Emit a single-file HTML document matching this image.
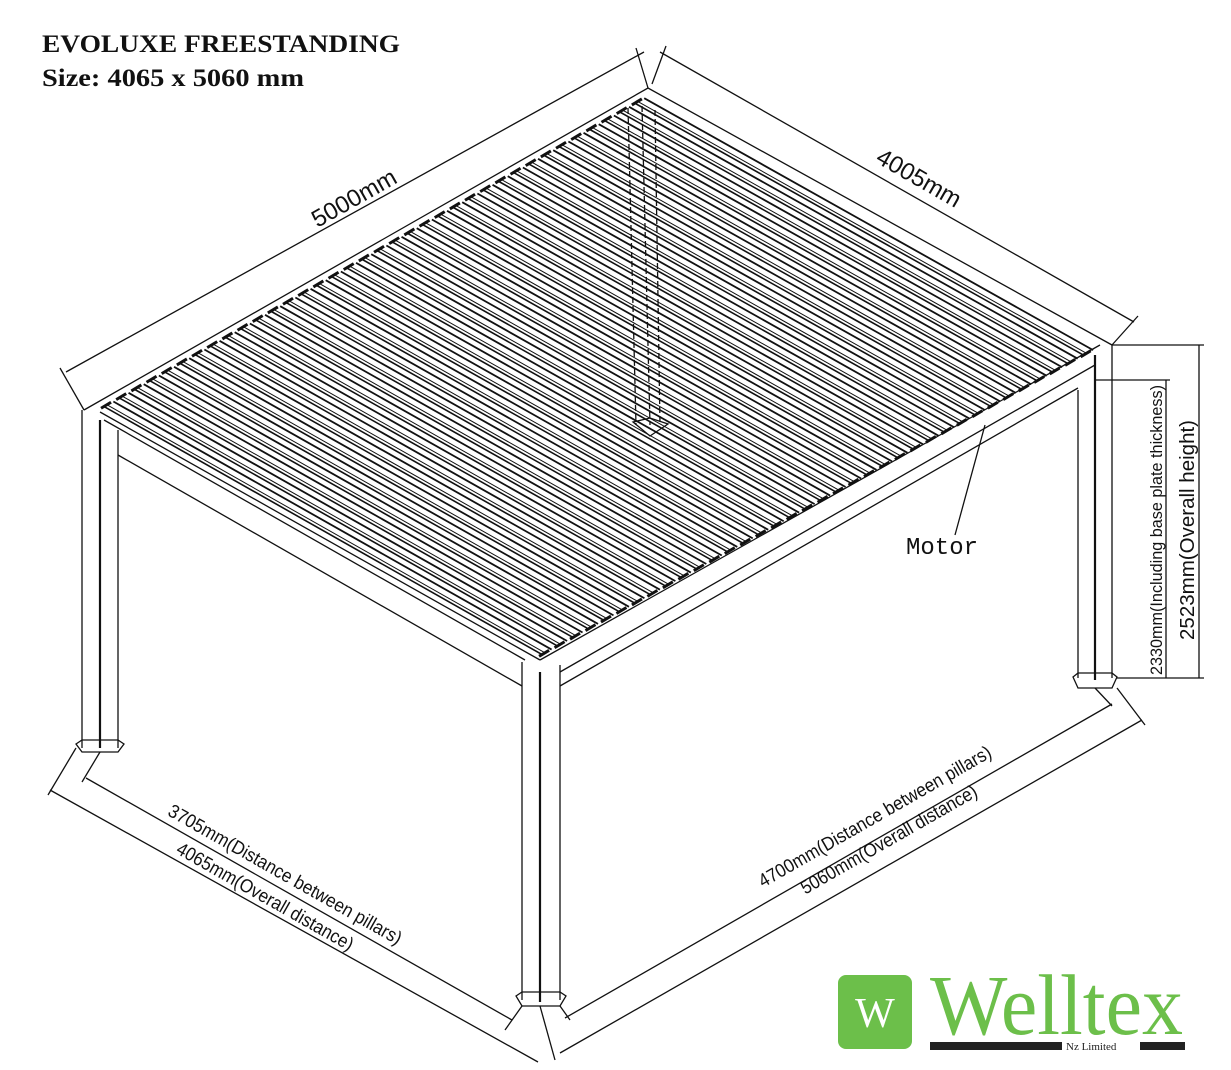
<!DOCTYPE html>
<html><head><meta charset="utf-8"><style>
html,body{margin:0;padding:0;background:#fff;}
svg{display:block;}
.t{font-family:"Liberation Sans Narrow","Liberation Sans",sans-serif;font-size:19px;fill:#111;}
</style></head><body>
<svg id="s" width="1231" height="1070" viewBox="0 0 1231 1070" xmlns="http://www.w3.org/2000/svg">
<rect width="1231" height="1070" fill="#fff"/>
<text x="42" y="52" font-family="Liberation Serif,serif" font-weight="bold" font-size="25" fill="#111" textLength="358" lengthAdjust="spacingAndGlyphs">EVOLUXE FREESTANDING</text>
<text x="42" y="86" font-family="Liberation Serif,serif" font-weight="bold" font-size="25" fill="#111" textLength="262" lengthAdjust="spacingAndGlyphs">Size: 4065 x 5060 mm</text>
<g id="roof" stroke="#111" fill="none"></g>
<g stroke="#111" stroke-width="1.3" fill="none">
<polyline points="84,410 648,88 1112,345"/>
<line x1="100" y1="412" x2="540" y2="660"/>
<line x1="540" y1="660" x2="1100" y2="345"/>
<line x1="104" y1="420" x2="525" y2="660"/>
<line x1="118" y1="455" x2="522" y2="686"/>
<line x1="560" y1="686" x2="1078" y2="388"/>
<line x1="560" y1="672" x2="1095" y2="365"/>
<line x1="82" y1="410" x2="82" y2="748"/><line x1="100" y1="420" x2="100" y2="748" stroke-width="2.2"/><line x1="118" y1="430" x2="118" y2="748"/>
<line x1="522" y1="662" x2="522" y2="1000"/><line x1="540" y1="672" x2="540" y2="1002" stroke-width="2.2"/><line x1="560" y1="665" x2="560" y2="1000"/>
<line x1="1078" y1="390" x2="1078" y2="678"/><line x1="1095" y1="355" x2="1095" y2="680" stroke-width="2.2"/><line x1="1112" y1="345" x2="1112" y2="678"/>
<polygon points="76,744 82,740 118,740 124,744 118,752 82,752"/>
<polygon points="516,996 522,992 560,992 566,996 560,1006 522,1006"/>
<polygon points="1073,677 1078,673 1112,673 1117,677 1112,688 1078,688"/>
<line x1="628" y1="108" x2="636" y2="425" stroke-dasharray="6,3"/>
<line x1="642" y1="106" x2="650" y2="425" stroke-dasharray="6,3"/>
<line x1="655" y1="110" x2="660" y2="425" stroke-dasharray="6,3"/>
<polygon points="633,422 650,418 668,424 650,436"/>
<line x1="66" y1="372" x2="644" y2="52"/><line x1="84" y1="410" x2="60" y2="368"/><line x1="648" y1="88" x2="636" y2="48"/>
<line x1="660" y1="52" x2="1134" y2="322"/><line x1="652" y1="84" x2="666" y2="46"/><line x1="1112" y1="345" x2="1138" y2="316"/>
<line x1="1112" y1="345" x2="1204" y2="345"/><line x1="1095" y1="380" x2="1170" y2="380"/><line x1="1117" y1="678" x2="1204" y2="678"/>
<line x1="1199" y1="345" x2="1199" y2="678"/><line x1="1166" y1="380" x2="1166" y2="678"/>
<line x1="76" y1="748" x2="48" y2="795"/><line x1="100" y1="752" x2="82" y2="782"/>
<line x1="50" y1="790" x2="538" y2="1062"/><line x1="86" y1="778" x2="512" y2="1020"/>
<line x1="522" y1="1006" x2="505" y2="1030"/><line x1="540" y1="1006" x2="555" y2="1060"/>
<line x1="560" y1="1006" x2="570" y2="1020"/><line x1="1117" y1="688" x2="1145" y2="725"/><line x1="1095" y1="688" x2="1112" y2="706"/>
<line x1="560" y1="1053" x2="1142" y2="720"/><line x1="565" y1="1018" x2="1112" y2="704"/>
<line x1="955" y1="535" x2="985" y2="425"/>
</g>
<g class="t">
<text transform="translate(358,205) rotate(-29.5)" text-anchor="middle" font-size="24">5000mm</text>
<text transform="translate(915,185) rotate(29.8)" text-anchor="middle" font-size="24">4005mm</text>
<text transform="translate(1162,530) rotate(-90)" text-anchor="middle" font-size="17" textLength="290" lengthAdjust="spacingAndGlyphs">2330mm(Including base plate thickness)</text>
<text transform="translate(1194,530) rotate(-90)" text-anchor="middle" font-size="20" textLength="220" lengthAdjust="spacingAndGlyphs">2523mm(Overall height)</text>
<text transform="translate(282,880) rotate(29.5)" text-anchor="middle" font-size="19" textLength="265" lengthAdjust="spacingAndGlyphs">3705mm(Distance between pillars)</text>
<text transform="translate(262,902) rotate(29.5)" text-anchor="middle" font-size="19" textLength="200" lengthAdjust="spacingAndGlyphs">4065mm(Overall distance)</text>
<text transform="translate(878,822) rotate(-29.8)" text-anchor="middle" font-size="19" textLength="265" lengthAdjust="spacingAndGlyphs">4700mm(Distance between pillars)</text>
<text transform="translate(892,845) rotate(-29.8)" text-anchor="middle" font-size="19" textLength="200" lengthAdjust="spacingAndGlyphs">5060mm(Overall distance)</text>
<text x="906" y="554" font-family="Liberation Mono,monospace" font-size="24">Motor</text>
</g>
<rect x="838" y="975" width="74" height="74" rx="8" fill="#6cbf4a"/>
<text x="875" y="1027" text-anchor="middle" font-family="Liberation Serif,serif" font-size="42" fill="#fff">W</text>
<text x="930" y="1034" font-family="Liberation Serif,serif" font-size="86" fill="#6cbf4a" textLength="253" lengthAdjust="spacingAndGlyphs">Welltex</text>
<rect x="930" y="1042" width="132" height="8" fill="#222"/>
<rect x="1140" y="1042" width="45" height="8" fill="#222"/>
<text x="1066" y="1050" font-family="Liberation Serif,serif" font-size="11" fill="#222">Nz Limited</text>
</svg>
<script>
var g=document.getElementById('roof'),ns='http://www.w3.org/2000/svg';
var L=[102,408],T=[648,96],F=[540,656],R=[1097,348],N=36;
function ln(a,b,c,d,w){var e=document.createElementNS(ns,'line');e.setAttribute('x1',a);e.setAttribute('y1',b);e.setAttribute('x2',c);e.setAttribute('y2',d);e.setAttribute('stroke-width',w);g.appendChild(e);}
for(var i=0;i<N;i++){
 for(var k=0;k<3;k++){
  var t=(i+[0.15,0.35,0.75][k])/N;
  var sx=L[0]+t*(T[0]-L[0]),sy=L[1]+t*(T[1]-L[1]);
  var ex=F[0]+t*(R[0]-F[0]),ey=F[1]+t*(R[1]-F[1]);
  ln(sx,sy,ex,ey,[1.6,1,1.8][k]);
 }
 var t0=(i+0.2)/N;
 var cx=L[0]+t0*(T[0]-L[0]),cy=L[1]+t0*(T[1]-L[1]);
 ln(cx-4,cy+2,cx+6,cy-4,3);
 var dx=F[0]+t0*(R[0]-F[0]),dy=F[1]+t0*(R[1]-F[1]);
 ln(dx-4,dy+2,dx+6,dy-4,3);
}
</script>
</body></html>
